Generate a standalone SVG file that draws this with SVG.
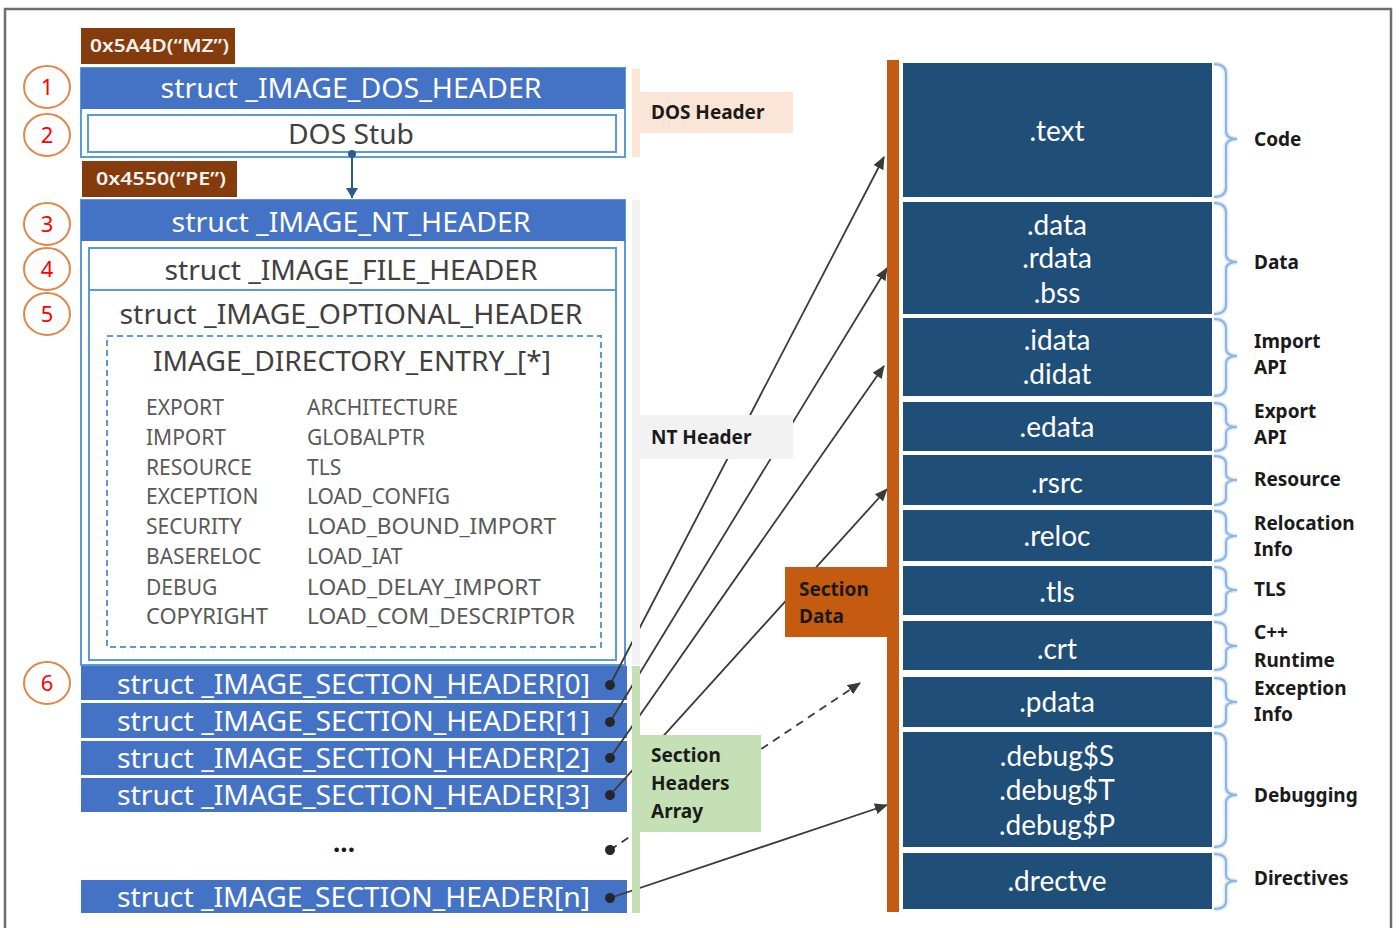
<svg xmlns="http://www.w3.org/2000/svg" width="1399" height="928" viewBox="0 0 1399 928">
  <style>
    .ui { font-family: "Noto Sans", "Open Sans", "Liberation Sans", sans-serif; }
    .bar { fill: #4472C4; }
    .bar-txt { fill: #FFFFFF; font-size: 27px; }
    .box { fill: #FFFFFF; stroke: #5B9BD5; stroke-width: 2; }
    .box-txt { fill: #404040; font-size: 27px; }
    .entry { fill: #595959; font-size: 21px; }
    .sig { fill: #843C0C; }
    .sig-txt { fill: #F2F2F2; font-size: 18px; font-weight: 600; }
    .num { fill: #FFFFFF; stroke: #E0874A; stroke-width: 2; }
    .num-txt { fill: #FF0000; font-size: 22px; text-anchor: middle; }
    .tag-txt { fill: #1A1A1A; font-size: 19px; font-weight: 700; }
    .sec { fill: #1F4E79; }
    .sec-txt { fill: #FFFFFF; font-family: Lato, "Noto Sans", sans-serif; font-size: 28px; text-anchor: middle; }
    .brace-bg { fill: none; stroke: #DEEBF7; stroke-width: 5; }
    .brace { fill: none; stroke: #8DB4E2; stroke-width: 2; }
    .lbl { fill: #1A1A1A; font-size: 19px; font-weight: 700; }
    .link { fill: none; stroke: #3A3A3A; stroke-width: 1.8; }
    .link-dash { stroke-dasharray: 8 6; }
  </style>
  <defs>
    <marker id="tip" markerUnits="userSpaceOnUse" markerWidth="13" markerHeight="11" refX="12" refY="5.5" orient="auto">
      <path d="M0,0 L13,5.5 L0,11 z" fill="#3A3A3A"/>
    </marker>
    <marker id="dot" markerUnits="userSpaceOnUse" markerWidth="12" markerHeight="12" refX="6" refY="6" orient="auto">
      <circle cx="6" cy="6" r="5" fill="#262626"/>
    </marker>
    <marker id="down" markerUnits="userSpaceOnUse" markerWidth="12" markerHeight="10" refX="6" refY="10" orient="0">
      <path d="M0,0 L12,0 L6,10 z" fill="#2E5C8A"/>
    </marker>
  </defs>

  <rect width="1399" height="928" fill="#FFFFFF"/>
  <!-- outer frame -->
  <rect x="5" y="9" width="1386" height="940" fill="none" stroke="#6E6E6E" stroke-width="2.5"/>

  <!-- signatures -->
  <g id="sig-mz" class="ui">
    <rect class="sig" x="81" y="28" width="154" height="36"/>
    <text class="sig-txt" x="90" y="52" textLength="139" lengthAdjust="spacingAndGlyphs">0x5A4D(“MZ”)</text>
  </g>
  <g id="sig-pe" class="ui">
    <rect class="sig" x="82" y="161" width="155" height="36"/>
    <text class="sig-txt" x="96" y="185" textLength="130" lengthAdjust="spacingAndGlyphs">0x4550(“PE”)</text>
  </g>

  <!-- step markers -->
  <g id="step-1" class="ui"><ellipse class="num" cx="47" cy="87" rx="23" ry="21"/><text class="num-txt" x="47" y="95">1</text></g>
  <g id="step-2" class="ui"><ellipse class="num" cx="47" cy="135" rx="23" ry="21"/><text class="num-txt" x="47" y="143">2</text></g>
  <g id="step-3" class="ui"><ellipse class="num" cx="47" cy="224" rx="23" ry="21"/><text class="num-txt" x="47" y="232">3</text></g>
  <g id="step-4" class="ui"><ellipse class="num" cx="47" cy="269" rx="23" ry="21"/><text class="num-txt" x="47" y="277">4</text></g>
  <g id="step-5" class="ui"><ellipse class="num" cx="47" cy="314" rx="23" ry="21"/><text class="num-txt" x="47" y="322">5</text></g>
  <g id="step-6" class="ui"><ellipse class="num" cx="47" cy="683" rx="23" ry="21"/><text class="num-txt" x="47" y="691">6</text></g>

  <!-- DOS header block -->
  <g id="dos-header" class="ui">
    <rect class="box" x="81" y="68" width="544" height="89"/>
    <rect class="bar" x="81" y="68" width="544" height="41"/>
    <text class="bar-txt" x="351" y="98" text-anchor="middle" textLength="381" lengthAdjust="spacingAndGlyphs">struct _IMAGE_DOS_HEADER</text>
  </g>
  <g id="dos-stub" class="ui">
    <rect class="box" x="88" y="115" width="528" height="37" stroke-width="2.5"/>
    <text class="box-txt" x="351" y="144" text-anchor="middle" textLength="126" lengthAdjust="spacingAndGlyphs">DOS Stub</text>
  </g>

  <!-- NT header block -->
  <g id="nt-header" class="ui">
    <rect class="box" x="81" y="200" width="544" height="465"/>
    <rect class="bar" x="81" y="200" width="544" height="41"/>
    <text class="bar-txt" x="351" y="232" text-anchor="middle" textLength="359" lengthAdjust="spacingAndGlyphs">struct _IMAGE_NT_HEADER</text>
  </g>
  <g id="file-header" class="ui">
    <rect class="box" x="89" y="248" width="527" height="42"/>
    <text class="box-txt" x="351" y="280" text-anchor="middle" textLength="373" lengthAdjust="spacingAndGlyphs">struct _IMAGE_FILE_HEADER</text>
  </g>
  <g id="optional-header" class="ui">
    <rect class="box" x="89" y="290" width="527" height="370"/>
    <text class="box-txt" x="351" y="324" text-anchor="middle" textLength="463" lengthAdjust="spacingAndGlyphs">struct _IMAGE_OPTIONAL_HEADER</text>
  </g>
  <g id="data-directory" class="ui">
    <rect x="107" y="336" width="494" height="311" fill="none" stroke="#5B9BD5" stroke-width="2" stroke-dasharray="6 4"/>
    <text class="box-txt" x="352" y="371" text-anchor="middle" textLength="398" lengthAdjust="spacingAndGlyphs">IMAGE_DIRECTORY_ENTRY_[*]</text>
    <g class="entry">
      <text x="146" y="415">EXPORT</text>
      <text x="146" y="445">IMPORT</text>
      <text x="146" y="475">RESOURCE</text>
      <text x="146" y="504">EXCEPTION</text>
      <text x="146" y="534">SECURITY</text>
      <text x="146" y="564">BASERELOC</text>
      <text x="146" y="595">DEBUG</text>
      <text x="146" y="624" textLength="122" lengthAdjust="spacingAndGlyphs">COPYRIGHT</text>
      <text x="307" y="415">ARCHITECTURE</text>
      <text x="307" y="445">GLOBALPTR</text>
      <text x="307" y="475">TLS</text>
      <text x="307" y="504">LOAD_CONFIG</text>
      <text x="307" y="534" textLength="249" lengthAdjust="spacingAndGlyphs">LOAD_BOUND_IMPORT</text>
      <text x="307" y="564">LOAD_IAT</text>
      <text x="307" y="595" textLength="234" lengthAdjust="spacingAndGlyphs">LOAD_DELAY_IMPORT</text>
      <text x="307" y="624" textLength="268" lengthAdjust="spacingAndGlyphs">LOAD_COM_DESCRIPTOR</text>
    </g>
  </g>

  <!-- section header array -->
  <g id="section-header-0" class="ui">
    <rect class="bar" x="81" y="666" width="546" height="34"/>
    <text class="bar-txt" x="117" y="694" textLength="473" lengthAdjust="spacingAndGlyphs">struct _IMAGE_SECTION_HEADER[0]</text>
  </g>
  <g id="section-header-1" class="ui">
    <rect class="bar" x="81" y="703" width="546" height="35"/>
    <text class="bar-txt" x="117" y="731" textLength="473" lengthAdjust="spacingAndGlyphs">struct _IMAGE_SECTION_HEADER[1]</text>
  </g>
  <g id="section-header-2" class="ui">
    <rect class="bar" x="81" y="741" width="546" height="34"/>
    <text class="bar-txt" x="117" y="768" textLength="473" lengthAdjust="spacingAndGlyphs">struct _IMAGE_SECTION_HEADER[2]</text>
  </g>
  <g id="section-header-3" class="ui">
    <rect class="bar" x="81" y="778" width="546" height="34"/>
    <text class="bar-txt" x="117" y="805" textLength="473" lengthAdjust="spacingAndGlyphs">struct _IMAGE_SECTION_HEADER[3]</text>
  </g>
  <g id="section-header-more" class="ui">
    <text x="344" y="852" font-size="26" font-weight="700" fill="#1A1A1A" text-anchor="middle">...</text>
  </g>
  <g id="section-header-n" class="ui">
    <rect class="bar" x="81" y="880" width="546" height="33"/>
    <text class="bar-txt" x="117" y="907" textLength="473" lengthAdjust="spacingAndGlyphs">struct _IMAGE_SECTION_HEADER[n]</text>
  </g>

  <!-- connectors -->
  <g id="connectors">
    <path d="M352,153 L352,198" fill="none" stroke="#2E5C8A" stroke-width="2" marker-end="url(#down)"/>
    <circle cx="352" cy="154" r="4" fill="#2E5C8A"/>
    <path class="link" d="M610,685 L884,157" marker-start="url(#dot)" marker-end="url(#tip)"/>
    <path class="link" d="M610,722 L887,268" marker-start="url(#dot)" marker-end="url(#tip)"/>
    <path class="link" d="M610,758 L884,366" marker-start="url(#dot)" marker-end="url(#tip)"/>
    <path class="link" d="M610,795 L887,489" marker-start="url(#dot)" marker-end="url(#tip)"/>
    <path class="link link-dash" d="M610,850 L860,683" marker-start="url(#dot)" marker-end="url(#tip)"/>
    <path class="link" d="M610,898 L887,805" marker-start="url(#dot)" marker-end="url(#tip)"/>
  </g>

  <!-- region tags -->
  <g id="tag-dos" class="ui">
    <rect x="632" y="69" width="8" height="88" fill="#FBE5D6"/>
    <rect x="640" y="92" width="153" height="41" fill="#FBE5D6"/>
    <text class="tag-txt" x="651" y="119">DOS Header</text>
  </g>
  <g id="tag-nt" class="ui">
    <rect x="632" y="200" width="8" height="465" fill="#F2F2F2"/>
    <rect x="640" y="415" width="153" height="44" fill="#F2F2F2"/>
    <text class="tag-txt" x="651" y="444">NT Header</text>
  </g>
  <g id="tag-sections" class="ui">
    <rect x="632" y="666" width="8" height="247" fill="#C5E0B4"/>
    <rect x="640" y="735" width="121" height="97" fill="#C5E0B4"/>
    <text class="tag-txt" x="651" y="762">Section</text>
    <text class="tag-txt" x="651" y="790">Headers</text>
    <text class="tag-txt" x="651" y="818">Array</text>
  </g>
  <g id="tag-section-data" class="ui">
    <rect x="887" y="60" width="12" height="852" fill="#C55A11"/>
    <rect x="785" y="567" width="102" height="70" fill="#C55A11"/>
    <text class="tag-txt" x="799" y="596" fill="#FBE5D6">Section</text>
    <text class="tag-txt" x="799" y="623" fill="#FBE5D6">Data</text>
  </g>

  <!-- section data blocks -->
  <g id="sec-text" class="ui">
    <rect class="sec" x="903" y="63" width="309" height="134"/>
    <text class="sec-txt" x="1057" y="141">.text</text>
    <path class="brace-bg" d="M1214,64 Q1226,64 1226,74 L1226,131 Q1226,139 1237,139 Q1226,139 1226,147 L1226,187 Q1226,197 1214,197"/>
    <path class="brace" d="M1214,64 Q1226,64 1226,74 L1226,131 Q1226,139 1237,139 Q1226,139 1226,147 L1226,187 Q1226,197 1214,197"/>
    <text class="lbl" x="1254" y="146">Code</text>
  </g>
  <g id="sec-data" class="ui">
    <rect class="sec" x="903" y="202" width="309" height="112"/>
    <text class="sec-txt" x="1057" y="235">.data</text>
    <text class="sec-txt" x="1057" y="268">.rdata</text>
    <text class="sec-txt" x="1057" y="303">.bss</text>
    <path class="brace-bg" d="M1214,203 Q1226,203 1226,213 L1226,254 Q1226,262 1237,262 Q1226,262 1226,270 L1226,304 Q1226,314 1214,314"/>
    <path class="brace" d="M1214,203 Q1226,203 1226,213 L1226,254 Q1226,262 1237,262 Q1226,262 1226,270 L1226,304 Q1226,314 1214,314"/>
    <text class="lbl" x="1254" y="269">Data</text>
  </g>
  <g id="sec-idata" class="ui">
    <rect class="sec" x="903" y="318" width="309" height="78"/>
    <text class="sec-txt" x="1057" y="350">.idata</text>
    <text class="sec-txt" x="1057" y="384">.didat</text>
    <path class="brace-bg" d="M1214,319 Q1226,319 1226,329 L1226,348 Q1226,356 1237,356 Q1226,356 1226,364 L1226,386 Q1226,396 1214,396"/>
    <path class="brace" d="M1214,319 Q1226,319 1226,329 L1226,348 Q1226,356 1237,356 Q1226,356 1226,364 L1226,386 Q1226,396 1214,396"/>
    <text class="lbl" x="1254" y="348">Import</text>
    <text class="lbl" x="1254" y="374">API</text>
  </g>
  <g id="sec-edata" class="ui">
    <rect class="sec" x="903" y="402" width="309" height="49"/>
    <text class="sec-txt" x="1057" y="437">.edata</text>
    <path class="brace-bg" d="M1214,403 Q1226,403 1226,411 L1226,421 Q1226,427 1237,427 Q1226,427 1226,433 L1226,443 Q1226,451 1214,451"/>
    <path class="brace" d="M1214,403 Q1226,403 1226,411 L1226,421 Q1226,427 1237,427 Q1226,427 1226,433 L1226,443 Q1226,451 1214,451"/>
    <text class="lbl" x="1254" y="418">Export</text>
    <text class="lbl" x="1254" y="444">API</text>
  </g>
  <g id="sec-rsrc" class="ui">
    <rect class="sec" x="903" y="455" width="309" height="50"/>
    <text class="sec-txt" x="1057" y="493">.rsrc</text>
    <path class="brace-bg" d="M1214,456 Q1226,456 1226,464 L1226,474 Q1226,480 1237,480 Q1226,480 1226,486 L1226,497 Q1226,505 1214,505"/>
    <path class="brace" d="M1214,456 Q1226,456 1226,464 L1226,474 Q1226,480 1237,480 Q1226,480 1226,486 L1226,497 Q1226,505 1214,505"/>
    <text class="lbl" x="1254" y="486">Resource</text>
  </g>
  <g id="sec-reloc" class="ui">
    <rect class="sec" x="903" y="510" width="309" height="51"/>
    <text class="sec-txt" x="1057" y="546">.reloc</text>
    <path class="brace-bg" d="M1214,511 Q1226,511 1226,519 L1226,530 Q1226,536 1237,536 Q1226,536 1226,542 L1226,553 Q1226,561 1214,561"/>
    <path class="brace" d="M1214,511 Q1226,511 1226,519 L1226,530 Q1226,536 1237,536 Q1226,536 1226,542 L1226,553 Q1226,561 1214,561"/>
    <text class="lbl" x="1254" y="530">Relocation</text>
    <text class="lbl" x="1254" y="556">Info</text>
  </g>
  <g id="sec-tls" class="ui">
    <rect class="sec" x="903" y="566" width="309" height="49"/>
    <text class="sec-txt" x="1057" y="602">.tls</text>
    <path class="brace-bg" d="M1214,567 Q1226,567 1226,575 L1226,584 Q1226,590 1237,590 Q1226,590 1226,596 L1226,607 Q1226,615 1214,615"/>
    <path class="brace" d="M1214,567 Q1226,567 1226,575 L1226,584 Q1226,590 1237,590 Q1226,590 1226,596 L1226,607 Q1226,615 1214,615"/>
    <text class="lbl" x="1254" y="596">TLS</text>
  </g>
  <g id="sec-crt" class="ui">
    <rect class="sec" x="903" y="621" width="309" height="49"/>
    <text class="sec-txt" x="1057" y="659">.crt</text>
    <path class="brace-bg" d="M1214,622 Q1226,622 1226,630 L1226,640 Q1226,646 1237,646 Q1226,646 1226,652 L1226,662 Q1226,670 1214,670"/>
    <path class="brace" d="M1214,622 Q1226,622 1226,630 L1226,640 Q1226,646 1237,646 Q1226,646 1226,652 L1226,662 Q1226,670 1214,670"/>
    <text class="lbl" x="1254" y="639">C++</text>
    <text class="lbl" x="1254" y="667">Runtime</text>
  </g>
  <g id="sec-pdata" class="ui">
    <rect class="sec" x="903" y="677" width="309" height="50"/>
    <text class="sec-txt" x="1057" y="712">.pdata</text>
    <path class="brace-bg" d="M1214,678 Q1226,678 1226,686 L1226,696 Q1226,702 1237,702 Q1226,702 1226,708 L1226,719 Q1226,727 1214,727"/>
    <path class="brace" d="M1214,678 Q1226,678 1226,686 L1226,696 Q1226,702 1237,702 Q1226,702 1226,708 L1226,719 Q1226,727 1214,727"/>
    <text class="lbl" x="1254" y="695">Exception</text>
    <text class="lbl" x="1254" y="721">Info</text>
  </g>
  <g id="sec-debug" class="ui">
    <rect class="sec" x="903" y="732" width="309" height="115"/>
    <text class="sec-txt" x="1057" y="766">.debug$S</text>
    <text class="sec-txt" x="1057" y="800">.debug$T</text>
    <text class="sec-txt" x="1057" y="835">.debug$P</text>
    <path class="brace-bg" d="M1214,733 Q1226,733 1226,743 L1226,787 Q1226,795 1237,795 Q1226,795 1226,803 L1226,837 Q1226,847 1214,847"/>
    <path class="brace" d="M1214,733 Q1226,733 1226,743 L1226,787 Q1226,795 1237,795 Q1226,795 1226,803 L1226,837 Q1226,847 1214,847"/>
    <text class="lbl" x="1254" y="802">Debugging</text>
  </g>
  <g id="sec-drectve" class="ui">
    <rect class="sec" x="903" y="853" width="309" height="56"/>
    <text class="sec-txt" x="1057" y="891">.drectve</text>
    <path class="brace-bg" d="M1214,854 Q1226,854 1226,862 L1226,875 Q1226,881 1237,881 Q1226,881 1226,887 L1226,901 Q1226,909 1214,909"/>
    <path class="brace" d="M1214,854 Q1226,854 1226,862 L1226,875 Q1226,881 1237,881 Q1226,881 1226,887 L1226,901 Q1226,909 1214,909"/>
    <text class="lbl" x="1254" y="885">Directives</text>
  </g>
</svg>
